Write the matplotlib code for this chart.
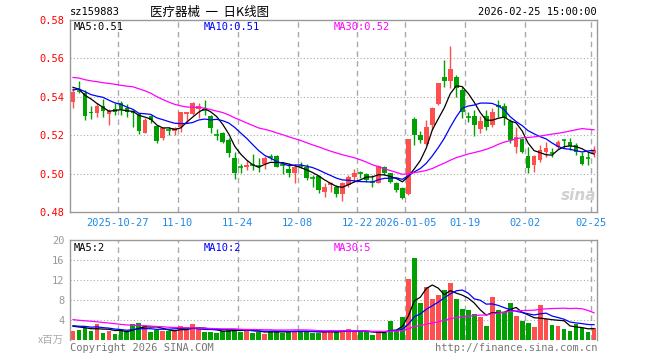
import numpy as np
import pandas as pd
import matplotlib
matplotlib.use('Agg')
import matplotlib.pyplot as plt

plt.rcParams['font.family'] = ['DejaVu Sans Mono', 'Noto Sans CJK SC']

# daily candles, 2025-10-15 .. 2026-02-25 (88 trading days)
opens = [0.5375, 0.5433, 0.5418, 0.5319, 0.5314, 0.5352, 0.5309, 0.5335, 0.5366, 0.5343,
         0.5326, 0.5309, 0.5213, 0.5300, 0.5247, 0.5184, 0.5228, 0.5222, 0.5244, 0.5310,
         0.5310, 0.5335, 0.5337, 0.5300, 0.5202, 0.5213, 0.5175, 0.5080, 0.5034, 0.5036,
         0.5047, 0.5041, 0.5050, 0.5089, 0.5092, 0.5047, 0.5022, 0.5002, 0.5041, 0.5036,
         0.4977, 0.4988, 0.4906, 0.4939, 0.4932, 0.4894, 0.4941, 0.4984, 0.5003, 0.4996,
         0.4959, 0.4953, 0.5033, 0.5002, 0.4953, 0.4923, 0.4894, 0.5284, 0.5201, 0.5154,
         0.5253, 0.5362, 0.5502, 0.5484, 0.5502, 0.5435, 0.5297, 0.5300, 0.5231, 0.5300,
         0.5253, 0.5357, 0.5352, 0.5276, 0.5137, 0.5179, 0.5092, 0.5045, 0.5071, 0.5111,
         0.5107, 0.5137, 0.5176, 0.5166, 0.5149, 0.5092, 0.5081, 0.5106]
highs = [0.5444, 0.5483, 0.5435, 0.5352, 0.5366, 0.5387, 0.5335, 0.5366, 0.5380, 0.5363,
         0.5331, 0.5314, 0.5291, 0.5305, 0.5253, 0.5244, 0.5241, 0.5244, 0.5322, 0.5322,
         0.5375, 0.5366, 0.5383, 0.5305, 0.5231, 0.5218, 0.5184, 0.5114, 0.5050, 0.5071,
         0.5102, 0.5079, 0.5092, 0.5102, 0.5095, 0.5062, 0.5054, 0.5050, 0.5062, 0.5050,
         0.4993, 0.4993, 0.4949, 0.4958, 0.4941, 0.4958, 0.4993, 0.5022, 0.5015, 0.5002,
         0.4993, 0.5045, 0.5040, 0.5005, 0.4958, 0.4932, 0.5180, 0.5296, 0.5223, 0.5279,
         0.5349, 0.5473, 0.5592, 0.5665, 0.5514, 0.5453, 0.5322, 0.5331, 0.5300, 0.5331,
         0.5340, 0.5383, 0.5366, 0.5283, 0.5244, 0.5184, 0.5140, 0.5097, 0.5149, 0.5166,
         0.5135, 0.5175, 0.5179, 0.5184, 0.5158, 0.5114, 0.5114, 0.5144]
lows = [0.5340, 0.5421, 0.5279, 0.5283, 0.5296, 0.5296, 0.5253, 0.5305, 0.5305, 0.5296,
        0.5244, 0.5206, 0.5210, 0.5262, 0.5161, 0.5175, 0.5200, 0.5201, 0.5218, 0.5262,
        0.5305, 0.5288, 0.5305, 0.5210, 0.5175, 0.5158, 0.5088, 0.4970, 0.5002, 0.5019,
        0.5019, 0.5010, 0.5022, 0.5071, 0.5033, 0.4998, 0.4981, 0.4949, 0.5028, 0.4967,
        0.4932, 0.4897, 0.4880, 0.4906, 0.4880, 0.4859, 0.4932, 0.4958, 0.4976, 0.4958,
        0.4932, 0.4949, 0.4993, 0.4953, 0.4906, 0.4866, 0.4889, 0.5149, 0.5158, 0.5149,
        0.5227, 0.5357, 0.5453, 0.5444, 0.5400, 0.5288, 0.5270, 0.5196, 0.5210, 0.5227,
        0.5244, 0.5296, 0.5253, 0.5158, 0.5106, 0.5106, 0.5002, 0.5010, 0.5062, 0.5088,
        0.5088, 0.5127, 0.5132, 0.5123, 0.5097, 0.5045, 0.5045, 0.5088]
closes = [0.5427, 0.5430, 0.5302, 0.5316, 0.5352, 0.5328, 0.5326, 0.5323, 0.5335, 0.5323,
          0.5314, 0.5222, 0.5279, 0.5279, 0.5172, 0.5236, 0.5226, 0.5235, 0.5322, 0.5322,
          0.5369, 0.5352, 0.5328, 0.5236, 0.5200, 0.5166, 0.5106, 0.5005, 0.5032, 0.5043,
          0.5045, 0.5039, 0.5080, 0.5087, 0.5036, 0.5045, 0.5002, 0.5036, 0.5039, 0.4976,
          0.4975, 0.4915, 0.4932, 0.4949, 0.4894, 0.4953, 0.4984, 0.5005, 0.5001, 0.4967,
          0.4957, 0.5040, 0.5002, 0.4958, 0.4915, 0.4871, 0.5180, 0.5201, 0.5175, 0.5241,
          0.5340, 0.5473, 0.5484, 0.5543, 0.5444, 0.5322, 0.5295, 0.5253, 0.5276, 0.5244,
          0.5322, 0.5345, 0.5288, 0.5175, 0.5189, 0.5114, 0.5028, 0.5092, 0.5123, 0.5133,
          0.5105, 0.5166, 0.5174, 0.5144, 0.5114, 0.5050, 0.5079, 0.5123]
# volume, millions
volumes = [1.8, 2.0, 2.47, 1.8, 3.2, 1.47, 1.8, 1.2, 1.93, 1.8,
           3.2, 3.47, 2.8, 1.67, 1.93, 1.8, 1.8, 2.0, 2.8, 2.0,
           3.2, 2.2, 1.67, 1.67, 1.5, 1.8, 2.3, 2.3, 1.6, 1.9,
           1.5, 1.7, 1.3, 1.8, 1.8, 1.5, 1.8, 1.9, 1.8, 1.8,
           1.4, 1.4, 1.7, 2.0, 1.53, 2.0, 2.2, 1.67, 1.67, 1.53,
           1.0, 1.8, 1.33, 3.8, 2.0, 4.67, 12.2, 16.47, 7.47, 10.67,
           8.2, 9.0, 10.0, 11.47, 8.2, 6.2, 6.0, 5.13, 4.67, 2.87,
           8.67, 6.0, 5.53, 7.47, 4.87, 3.8, 3.47, 2.67, 7.0, 4.2,
           3.0, 2.87, 2.2, 1.8, 3.2, 2.33, 1.67, 2.47]

# estimated earlier days (off-screen), only used to start the moving averages
prior_closes = [0.552, 0.556, 0.550, 0.547, 0.549, 0.544, 0.546, 0.550, 0.545, 0.541,
                0.553, 0.560, 0.566, 0.571, 0.568, 0.563, 0.559, 0.556,
                0.549, 0.541, 0.538, 0.544, 0.547, 0.543, 0.539, 0.548, 0.546, 0.541, 0.547]
prior_volumes = [6.2, 5.1, 4.8, 6.5, 5.7, 4.9, 5.3, 6.0, 5.2, 5.4,
                 4.6, 3.9, 4.4, 4.0, 3.7, 4.5, 3.8,
                 3.3, 2.9, 3.6, 3.1, 2.7, 3.4, 2.6, 3.0, 2.8, 3.1, 2.9, 3.2]

tick_pos = [8, 18, 28, 38, 48, 56, 66, 76, 87]
tick_labels = ['2025-10-27', '11-10', '11-24', '12-08', '12-22', '2026-01-05',
               '01-19', '02-02', '02-25']
price_ticks = [0.48, 0.50, 0.52, 0.54, 0.56, 0.58]
vol_ticks = [4, 8, 12, 16, 20]
ma_labels = ['MA5:0.51', 'MA10:0.51', 'MA30:0.52']
vol_ma_labels = ['MA5:2', 'MA10:2', 'MA30:5']

UP = '#ff5050'
DOWN = '#00a000'
GRID = '#aaaaaa'
MA_COLORS = ['black', 'blue', 'magenta']

W, H = 660, 360
n = len(closes)
x = np.arange(n)
o = np.array(opens); c = np.array(closes)
hi = np.array(highs); lo = np.array(lows)
up = c >= o
colors = [UP if u else DOWN for u in up]

all_c = pd.Series(prior_closes + closes)
all_v = pd.Series(prior_volumes + volumes)
k = len(prior_closes)
ma = [all_c.rolling(w).mean().values[k:] for w in (5, 10, 30)]
vma = [all_v.rolling(w).mean().values[k:] for w in (5, 10, 30)]


def px(xp, yp):
    return xp / W, 1 - yp / H


fig = plt.figure(figsize=(W / 100, H / 100), dpi=100)
ax = fig.add_axes([70 / W, 1 - 212 / H, 527 / W, 192 / H])
axv = fig.add_axes([70 / W, 1 - 340 / H, 527 / W, 100 / H])

# ---- price panel
for v in price_ticks[1:-1]:
    ax.axhline(v, color=GRID, ls=(0, (1, 2)), lw=0.8, zorder=0)
for a in (ax, axv):
    for t in tick_pos:
        a.axvline(t - 0.5, color=GRID, ls=(0, (4, 3)), lw=1, zorder=0)

ax.vlines(x, lo, hi, colors=colors, lw=1, zorder=2)
body_lo = np.minimum(o, c)
body_h = np.abs(c - o)
flat = body_h < 0.0003
ax.bar(x[~flat], body_h[~flat], bottom=body_lo[~flat], width=0.78,
       color=np.array(colors)[~flat], zorder=3)
ax.hlines(c[flat], x[flat] - 0.39, x[flat] + 0.39, colors=np.array(colors)[flat], lw=1.2, zorder=3)

for m, col in zip(ma, MA_COLORS):
    ax.plot(x, m, color=col, lw=0.9, zorder=4)

ax.set_xlim(-0.5, n - 0.5)
ax.set_ylim(0.48, 0.58)
ax.set_yticks(price_ticks)
ax.set_yticklabels([f'{v:.2f}' for v in price_ticks], color='red', fontsize=7.5)
ax.set_xticks([t - 0.5 for t in tick_pos])
ax.set_xticklabels(tick_labels, color='#1e88e5', fontsize=7.5)
ax.tick_params(length=0, pad=4)

# ---- volume panel
for v in vol_ticks[:-1]:
    axv.axhline(v, color=GRID, ls=(0, (1, 2)), lw=0.8, zorder=0)
axv.bar(x, volumes, width=0.8, color=colors, zorder=2)
for m, col in zip(vma, MA_COLORS):
    axv.plot(x, m, color=col, lw=0.9, zorder=4)
axv.set_xlim(-0.5, n - 0.5)
axv.set_ylim(0, 20)
axv.set_yticks(vol_ticks)
axv.set_yticklabels([str(v) for v in vol_ticks], color='#999999', fontsize=7.5)
axv.set_xticks([])
axv.tick_params(length=0, pad=4)

for a in (ax, axv):
    for s in a.spines.values():
        s.set_color('#999999')
        s.set_linewidth(1)
axv.spines['bottom'].set_visible(False)

# ---- texts
fig.text(*px(70, 12), 'sz159883', fontsize=7.5, va='center', ha='left')
fig.text(*px(150, 12), '医疗器械  一  日K线图', fontsize=9, va='center', ha='left',
         family=['Noto Sans CJK SC', 'DejaVu Sans'])
fig.text(*px(597, 12), '2026-02-25 15:00:00', fontsize=7.5, va='center', ha='right')

for lab, col, xp in zip(ma_labels, MA_COLORS, (74, 204, 334)):
    fig.text(*px(xp, 27), lab, color=col, fontsize=7.5, va='center', ha='left')
for lab, col, xp in zip(vol_ma_labels, MA_COLORS, (74, 204, 334)):
    fig.text(*px(xp, 248), lab, color=col, fontsize=7.5, va='center', ha='left')

fig.text(*px(64, 340), 'x百万', color='#aaaaaa', fontsize=7.5, va='center', ha='right',
         family=['Noto Sans CJK SC', 'DejaVu Sans'])
fig.text(*px(70, 348), 'Copyright 2026 SINA.COM', color='#777777', fontsize=7.5,
         va='center', ha='left')
fig.text(*px(597, 348), 'http://finance.sina.com.cn', color='#777777', fontsize=7.5,
         va='center', ha='right')
fig.text(*px(596, 195), 'sina', color='#d0d0d0', fontsize=11, fontweight='bold',
         style='italic', va='center', ha='right', family='DejaVu Sans')

fig.savefig('out.png', dpi=100)
